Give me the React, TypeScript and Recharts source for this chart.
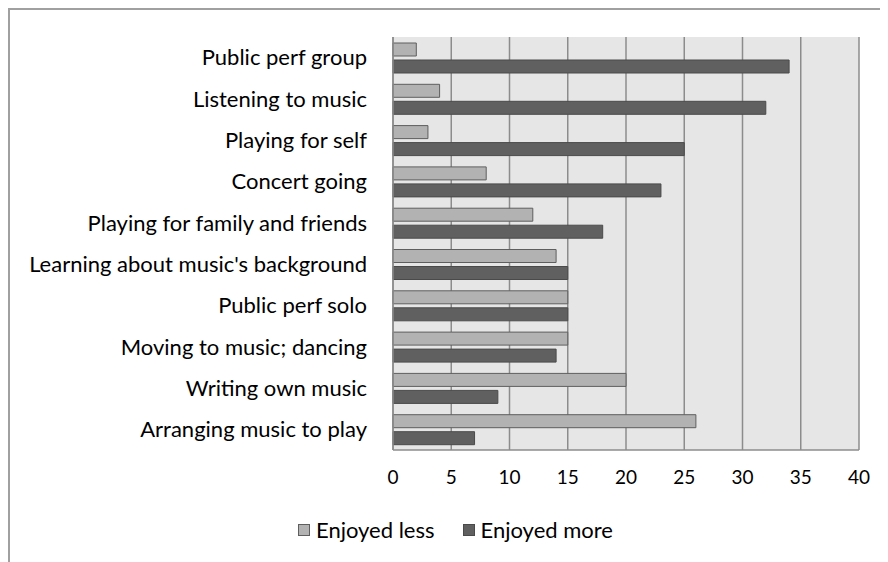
import React from 'react';
import { BarChart, Bar, XAxis, YAxis, CartesianGrid, Legend } from 'recharts';

const categories = [
  'Public perf group',
  'Listening to music',
  'Playing for self',
  'Concert going',
  'Playing for family and friends',
  "Learning about music's background",
  'Public perf solo',
  'Moving to music; dancing',
  'Writing own music',
  'Arranging music to play',
];
const enjoyedLess = [2, 4, 3, 8, 12, 14, 15, 15, 20, 26];
const enjoyedMore = [34, 32, 25, 23, 18, 15, 15, 14, 9, 7];
const xTicks = [0, 5, 10, 15, 20, 25, 30, 35, 40];

const seriesInfo = [
  { key: 'less', label: 'Enjoyed less', fill: '#b2b2b2', stroke: '#5e5e5e' },
  { key: 'more', label: 'Enjoyed more', fill: '#606060', stroke: '#4a4a4a' },
];

const data = categories.map((name, i) => ({
  name,
  less: enjoyedLess[i],
  more: enjoyedMore[i],
}));

const FONT = 'Lato, "Open Sans", sans-serif';

const renderLegend = () => (
  <div style={{ position: 'relative', width: 878, height: 40, fontFamily: FONT }}>
    <div style={{ position: 'absolute', left: 288, top: 6, display: 'flex', alignItems: 'center' }}>
      {seriesInfo.map((s, i) => (
        <div key={s.key} style={{ display: 'flex', alignItems: 'center', marginRight: i === 0 ? 28 : 0 }}>
          <span
            style={{
              display: 'inline-block',
              width: 12,
              height: 12,
              boxSizing: 'border-box',
              background: s.fill,
              border: `1px solid ${s.stroke}`,
              marginRight: 6,
            }}
          />
          <span style={{ fontSize: 22, color: '#000' }}>{s.label}</span>
        </div>
      ))}
    </div>
  </div>
);

export default function App() {
  return (
    <div
      style={{
        width: 880,
        height: 554,
        borderTop: '2px solid #a0a0a0',
        borderLeft: '2px solid #a0a0a0',
        boxSizing: 'border-box',
        overflow: 'hidden',
      }}
    >
      <BarChart
        width={878}
        height={552}
        data={data}
        layout="vertical"
        margin={{ top: 27, right: 29, left: 0, bottom: 12 }}
        barSize={13}
        barGap={4}
        style={{ fontFamily: FONT }}
      >
        <CartesianGrid horizontal={false} vertical stroke="#8c8c8c" strokeWidth={1.5} fill="#e6e6e6" />
        <XAxis
          type="number"
          domain={[0, 40]}
          ticks={xTicks}
          interval={0}
          height={60}
          axisLine={{ stroke: '#8c8c8c', strokeWidth: 1.5 }}
          tickLine={false}
          tickSize={0}
          tickMargin={21}
          tick={{ fill: '#000', fontSize: 19 }}
        />
        <YAxis
          type="category"
          dataKey="name"
          width={383}
          interval={0}
          axisLine={{ stroke: '#8c8c8c', strokeWidth: 1.5 }}
          tickLine={false}
          tickSize={0}
          tickMargin={26}
          tick={{ fill: '#000', fontSize: 22 }}
        />
        <Legend verticalAlign="bottom" height={40} width={878} wrapperStyle={{ left: 0 }} content={renderLegend} />
        {seriesInfo.map((s) => (
          <Bar
            key={s.key}
            dataKey={s.key}
            name={s.label}
            fill={s.fill}
            stroke={s.stroke}
            strokeWidth={1}
            isAnimationActive={false}
          />
        ))}
      </BarChart>
    </div>
  );
}
